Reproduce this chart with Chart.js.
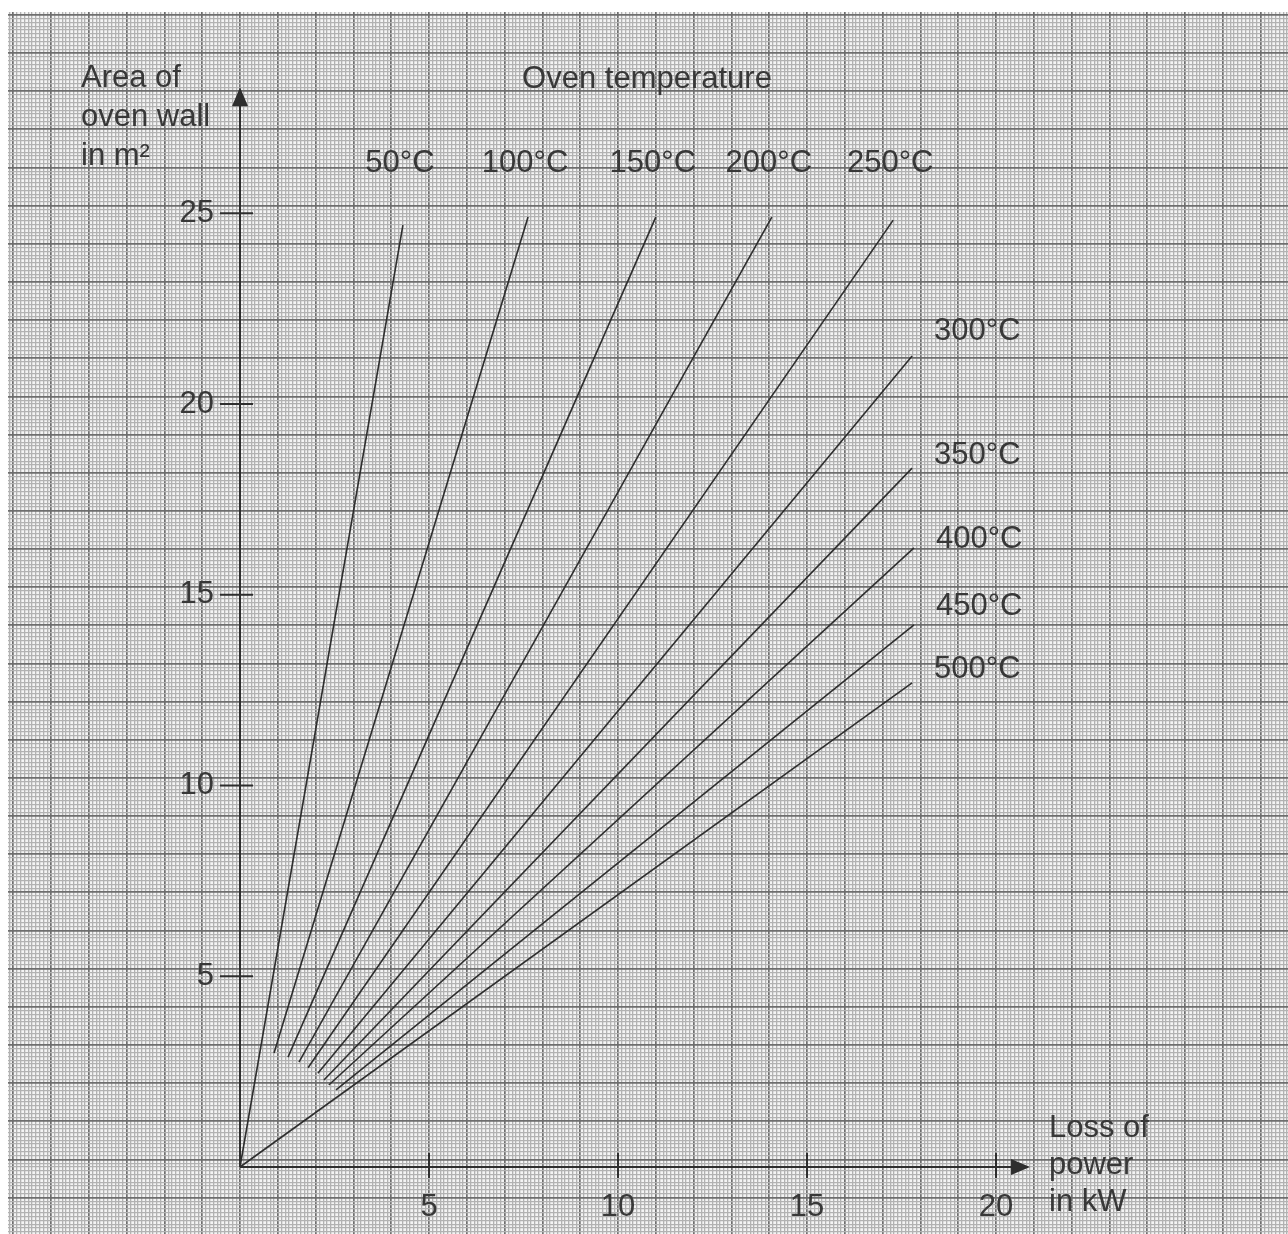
<!DOCTYPE html>
<html>
<head>
<meta charset="utf-8">
<title>Area of oven wall vs loss of power</title>
<script src="https://cdn.jsdelivr.net/npm/chart.js@4.4.1/dist/chart.umd.min.js"></script>
<style>
  html, body { margin: 0; padding: 0; background: #fff; }
  #wrap { width: 1288px; height: 1234px; }
</style>
</head>
<body>
<div id="wrap"><canvas id="chart" width="1288" height="1234"></canvas></div>
<script>
// one straight line per oven temperature (power in kW, area in m²)
const temperatures = ['50°C', '100°C', '150°C', '200°C', '250°C', '300°C', '350°C', '400°C', '450°C', '500°C'];
const startPower = [0, 0.90, 1.27, 1.56, 1.80, 2.06, 2.22, 2.35, 2.54, 0];
const startArea = [0, 2.99, 2.88, 2.75, 2.60, 2.46, 2.28, 2.15, 2.02, 0];
const endPower = [4.31, 7.62, 11.0, 14.07, 17.28, 17.78, 17.78, 17.83, 17.83, 17.78];
const endArea = [24.69, 24.9, 24.9, 24.9, 24.82, 21.26, 18.32, 16.23, 14.21, 12.69];
const powerTicks = [5, 10, 15, 20];
const areaTicks = [5, 10, 15, 20, 25];

(() => {
  const INK = '#2e2e2e';
  const TEXT = '#383838';
  const FAMILY = '"Liberation Sans", Arial, sans-serif';
  const FONT = '31px ' + FAMILY;

  // graph paper layout: where the origin sits and how many px per unit
  const AREA = { left: 8, top: 12, right: 1288, bottom: 1234 };
  const ORIGIN = { x: 240, y: 1167 };
  const UNIT = { x: 37.8, y: 38.15 };
  const xMin = -(ORIGIN.x - AREA.left) / UNIT.x;
  const xMax = (AREA.right - ORIGIN.x) / UNIT.x;
  const yMin = -(AREA.bottom - ORIGIN.y) / UNIT.y;
  const yMax = (ORIGIN.y - AREA.top) / UNIT.y;
  const paperShift = 0.2; // printed grid sits a little above the y values
  // vertical nudge (px) of the labels at the right-hand line ends
  const sideNudge = [-24, -13, -8, -18, -13];

  const isWhole = v => Math.abs(v - Math.round(v)) < 1e-6;
  const paperColor = c => isWhole(c.tick.value) ? '#6e6e6e' : '#b2b2b2';
  const paperWidth = c => isWhole(c.tick.value) ? 1.7 : 1.3;
  const noPad = s => { s.paddingLeft = s.paddingRight = s.paddingTop = s.paddingBottom = 0; };

  const paperBg = {
    id: 'paperBg',
    beforeDraw(chart) {
      const { ctx, chartArea: a } = chart;
      ctx.save();
      ctx.fillStyle = '#f4f4f4';
      ctx.fillRect(a.left, a.top, a.right - a.left, a.bottom - a.top);
      ctx.restore();
    }
  };

  const annotate = {
    id: 'annotate',
    afterDatasetsDraw(chart) {
      const { ctx } = chart;
      const sx = chart.scales.x, sy = chart.scales.y;
      const x0 = sx.getPixelForValue(0), y0 = sy.getPixelForValue(0);
      ctx.save();
      ctx.strokeStyle = INK;
      ctx.fillStyle = INK;
      ctx.lineWidth = 2;

      // axes with arrow heads
      const yTip = sy.getPixelForValue(28.3);
      const xTip = sx.getPixelForValue(20.9);
      ctx.beginPath();
      ctx.moveTo(x0, y0); ctx.lineTo(x0, yTip + 10);
      ctx.moveTo(x0, y0); ctx.lineTo(xTip - 10, y0);
      ctx.stroke();
      ctx.beginPath();
      ctx.moveTo(x0, yTip); ctx.lineTo(x0 - 8, yTip + 19); ctx.lineTo(x0 + 8, yTip + 19); ctx.closePath();
      ctx.moveTo(xTip, y0); ctx.lineTo(xTip - 19, y0 - 8); ctx.lineTo(xTip - 19, y0 + 8); ctx.closePath();
      ctx.fill();

      // tick marks crossing the axes
      ctx.beginPath();
      powerTicks.forEach(v => {
        const px = sx.getPixelForValue(v);
        ctx.moveTo(px, y0 - 14); ctx.lineTo(px, y0 + 11);
      });
      areaTicks.forEach(v => {
        const py = sy.getPixelForValue(v);
        ctx.moveTo(x0 - 20, py); ctx.lineTo(x0 + 13, py);
      });
      ctx.stroke();

      ctx.font = FONT;
      ctx.fillStyle = TEXT;
      ctx.textBaseline = 'middle';

      // area tick labels, left of the tick marks
      ctx.textAlign = 'right';
      areaTicks.forEach(v => ctx.fillText(String(v), x0 - 26, sy.getPixelForValue(v)));

      // temperature labels next to the line ends
      const topRow = sy.getPixelForValue(25) - 50;
      let side = 0;
      temperatures.forEach((t, i) => {
        const px = sx.getPixelForValue(endPower[i]);
        const py = sy.getPixelForValue(endArea[i]);
        if (endArea[i] > 24) {
          ctx.textAlign = 'center';
          ctx.fillText(t, px - 3, topRow);
        } else {
          ctx.textAlign = 'left';
          ctx.fillText(t, px + 22, py + sideNudge[side++]);
        }
      });

      // axis titles
      ctx.textAlign = 'center';
      ctx.fillText('Oven temperature', 647, 79);
      ctx.textAlign = 'left';
      ['Area of', 'oven wall', 'in m²'].forEach((s, i) => ctx.fillText(s, 81, 78 + i * 39));
      ['Loss of', 'power', 'in kW'].forEach((s, i) => ctx.fillText(s, 1049, 1128 + i * 37));
      ctx.restore();
    }
  };

  new Chart(document.getElementById('chart'), {
    type: 'scatter',
    data: {
      datasets: temperatures.map((t, i) => ({
        label: t,
        data: [{ x: startPower[i], y: startArea[i] }, { x: endPower[i], y: endArea[i] }],
        showLine: true,
        borderColor: INK,
        borderWidth: 1.6,
        pointRadius: 0,
        xAxisID: 'x',
        yAxisID: 'y'
      }))
    },
    options: {
      responsive: false,
      animation: false,
      devicePixelRatio: 1,
      events: [],
      layout: { padding: { left: AREA.left, top: AREA.top, right: 0, bottom: 0 } },
      plugins: { legend: { display: false }, tooltip: { enabled: false } },
      scales: {
        gx: {
          type: 'linear', axis: 'x', position: 'bottom', min: xMin, max: xMax,
          ticks: { display: false, stepSize: 0.1, includeBounds: false },
          grid: { drawTicks: false, color: paperColor, lineWidth: paperWidth },
          border: { display: false },
          afterFit: noPad
        },
        gy: {
          type: 'linear', axis: 'y', position: 'left', min: yMin - paperShift, max: yMax - paperShift,
          ticks: { display: false, stepSize: 0.1, includeBounds: false },
          grid: { drawTicks: false, color: paperColor, lineWidth: paperWidth },
          border: { display: false },
          afterFit: noPad
        },
        x: {
          type: 'linear', position: { y: 0 }, min: xMin, max: xMax,
          ticks: {
            stepSize: 5, includeBounds: false, maxRotation: 0, padding: 14,
            color: TEXT, font: { family: FAMILY, size: 31 },
            callback: v => powerTicks.includes(v) ? String(v) : null
          },
          grid: { display: false },
          border: { display: false },
          afterFit: noPad
        },
        y: {
          type: 'linear', position: { x: 0 }, min: yMin, max: yMax,
          ticks: { display: false, stepSize: 5, includeBounds: false },
          grid: { display: false },
          border: { display: false },
          afterFit: noPad
        }
      }
    },
    plugins: [paperBg, annotate]
  });
})();
</script>
</body>
</html>
